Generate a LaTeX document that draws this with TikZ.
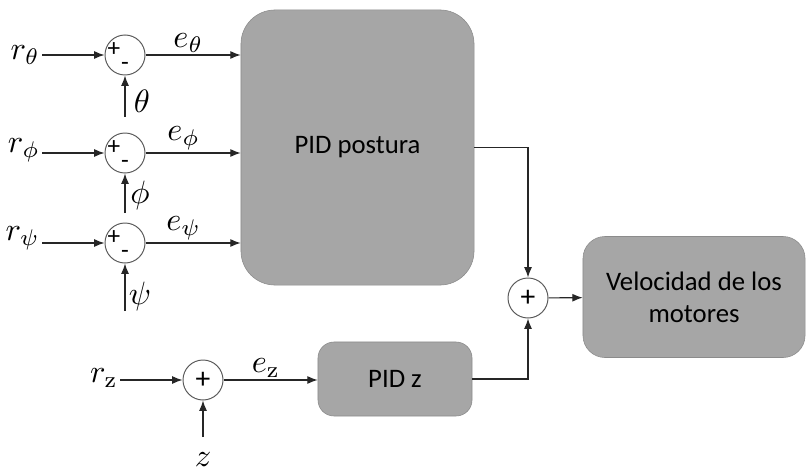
\documentclass[tikz,border=0pt]{standalone}
\usepackage{fontspec}
\newfontfamily\boxfont{Carlito}
\usetikzlibrary{arrows.meta}

\definecolor{boxgray}{RGB}{166,166,166}
\definecolor{linegray}{RGB}{90,90,90}

\tikzset{
    block/.style={draw=linegray!70, fill=boxgray, inner sep=0pt, align=center,
        font=\boxfont\fontsize{19}{23}\selectfont},
    sumnode/.style={circle, draw=linegray, line width=0.7pt, minimum size=1cm, inner sep=0pt},
    signs/.style={font=\boxfont\fontsize{21}{23}\selectfont, inner sep=0pt},
    smallsigns/.style={font=\boxfont\fontsize{18}{18}\selectfont, inner sep=0pt, text height=1.3ex, text depth=0pt},
    lbl/.style={scale=2.3, inner sep=0.5pt},
    arr/.style={-{Latex[length=2.6mm,width=2mm]}, line width=0.8pt, draw=black!85},
}

\begin{document}
\begin{tikzpicture}[x=0.025cm, y=-0.025cm]
    \useasboundingbox (0,0) rectangle (806,472);

    % bloques
    \node[block, rounded corners=0.85cm, minimum width=5.825cm, minimum height=6.875cm] (pidp) at (357.5,147.5) {PID postura};
    \node[block, rounded corners=0.4cm, minimum width=3.85cm, minimum height=1.85cm] (pidz) at (395,379) {PID z};
    \node[block, rounded corners=0.55cm, minimum width=5.55cm, minimum height=3.025cm] (vel) at (694,297) {Velocidad de los\\motores};

    % theta
    \node[sumnode] (s1) at (125,55) {};
    \node[smallsigns] (p1) at (114,53) {+};
    \node[smallsigns] (m1) at (125,67) {-};
    \node[lbl, anchor=east] (rth) at (42,55) {$r_\theta$};
    \coordinate (th) at (125,117);
    \node[lbl] (lth) at (142,101) {$\theta$};
    \draw[arr] (rth) -- (s1);
    \draw[arr] (th) -- (s1);
    \draw[arr] (s1) -- node[lbl, above, pos=0.45] (eth) {$e_\theta$} (s1 -| pidp.west);

    % phi
    \node[sumnode] (s2) at (125,153) {};
    \node[smallsigns] (p2) at (114,151) {+};
    \node[smallsigns] (m2) at (125,165) {-};
    \node[lbl, anchor=east] (rph) at (42,150) {$r_\phi$};
    \coordinate (ph) at (125,213);
    \node[lbl] (lph) at (140,195) {$\phi$};
    \draw[arr] (rph.east |- s2) -- (s2);
    \draw[arr] (ph) -- (s2);
    \draw[arr] (s2) -- node[lbl, above, pos=0.4] (eph) {$e_\phi$} (s2 -| pidp.west);

    % psi
    \node[sumnode] (s3) at (125,243) {};
    \node[smallsigns] (p3) at (114,241) {+};
    \node[smallsigns] (m3) at (125,255) {-};
    \node[lbl, anchor=east] (rps) at (42,238) {$r_\psi$};
    \coordinate (ps) at (125,311);
    \node[lbl] (lps) at (140,296) {$\psi$};
    \draw[arr] (rps.east |- s3) -- (s3);
    \draw[arr] (ps) -- (s3);
    \draw[arr] (s3) -- node[lbl, above, pos=0.4] (eps) {$e_\psi$} (s3 -| pidp.west);

    % z
    \node[sumnode] (s4) at (203,380) {};
    \node[signs] (p4) at (203,380) {+};
    \node[lbl, anchor=east] (rz) at (120,378) {$r_\mathrm{z}$};
    \coordinate (zc) at (203,437);
    \node[lbl] (lz) at (203,460) {$z$};
    \draw[arr] (rz.east |- s4) -- (s4);
    \draw[arr] (zc) -- (s4);
    \draw[arr] (s4) -- node[lbl, above, pos=0.45] (ez) {$e_\mathrm{z}$} (s4 -| pidz.west);

    % suma final
    \node[sumnode] (s5) at (528,298) {};
    \node[signs] (p5) at (528,298) {+};
    \draw[arr] (pidp.east) -| (s5);
    \draw[arr] (pidz.east) -| (s5);
    \draw[arr] (s5) -- (vel);
\end{tikzpicture}
\end{document}
